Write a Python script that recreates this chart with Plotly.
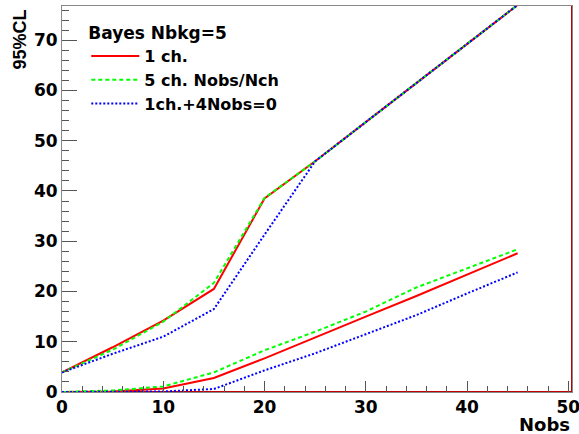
import plotly.graph_objects as go

# ---- data ----
nobs = [0, 5, 10, 15, 20, 25, 30, 35, 40, 45]

red_upper = [3.9, 8.9, 14.2, 20.5, 38.5, 45.9, 53.7, 61.5, 69.2, 77.0]
green_upper = [3.9, 8.4, 14.0, 21.7, 38.6, 45.9, 53.7, 61.5, 69.2, 77.0]
blue_upper = [3.9, 7.6, 11.0, 16.5, 31.3, 45.9, 53.7, 61.5, 69.2, 77.0]

red_lower = [0.0, 0.1, 0.7, 2.8, 6.7, 10.9, 15.0, 19.1, 23.4, 27.6]
green_lower = [0.0, 0.3, 1.1, 3.9, 8.3, 12.0, 16.0, 20.8, 24.6, 28.4]
blue_lower = [0.0, 0.0, 0.1, 0.6, 4.3, 7.7, 11.5, 15.3, 19.6, 23.8]

names = ["1 ch.", "5 ch. Nobs/Nch", "1ch.+4Nobs=0"]
legend_title = "Bayes Nbkg=5"
x_title = "Nobs"
y_title = "95%CL"

x_range = [0, 50.37]
y_range = [0, 76.8]
x_ticks = [0, 10, 20, 30, 40, 50]
y_ticks = [0, 10, 20, 30, 40, 50, 60, 70]

# red border line of the "1 ch." graph along bottom and right edge
edge_x = [0, 50.37, 50.37]
edge_y = [0, 0, 76.8]

RED, GREEN, BLUE = "#ff0000", "#00ff00", "#0000ff"
FONT = "DejaVu Sans"

fig = go.Figure()
fig.add_trace(go.Scatter(x=edge_x, y=edge_y, mode="lines", showlegend=False,
                         line=dict(color="#c00000", width=2), cliponaxis=False,
                         hoverinfo="skip"))

styles = [(RED, "solid", 2), (GREEN, "4px,3px", 2), (BLUE, "2px,2px", 2)]
uppers = [red_upper, green_upper, blue_upper]
lowers = [red_lower, green_lower, blue_lower]
for name, (col, dash, w), up in zip(names, styles, uppers):
    fig.add_trace(go.Scatter(x=nobs, y=up, mode="lines", name=name,
                             line=dict(color=col, dash=dash, width=w)))
for name, (col, dash, w), lo in zip(names, styles, lowers):
    fig.add_trace(go.Scatter(x=nobs, y=lo, mode="lines", name=name, showlegend=False,
                             line=dict(color=col, dash=dash, width=w)))

axis_common = dict(
    showgrid=False, zeroline=False, showline=True, linecolor="#888888",
    linewidth=1, mirror=True, ticks="inside", tickcolor="#555555", tickwidth=1,
    ticklabeloverflow="allow", automargin=False,
    tickfont=dict(family=FONT, size=17, color="black", weight="bold"),
)
fig.update_xaxes(range=x_range, tickvals=x_ticks, ticklen=11,
                 minor=dict(ticks="inside", ticklen=6, dtick=2, tickcolor="#555555"),
                 **axis_common)
fig.update_yaxes(range=y_range, tickvals=y_ticks, ticklen=15,
                 minor=dict(ticks="inside", ticklen=7, dtick=2, tickcolor="#555555"),
                 **axis_common)

fig.update_layout(
    width=579, height=434,
    margin=dict(l=62, r=7, t=6, b=42),
    plot_bgcolor="white", paper_bgcolor="white",
    legend=dict(
        x=0.0476, y=0.9715, xanchor="left", yanchor="top",
        bgcolor="rgba(0,0,0,0)", borderwidth=0, itemwidth=48,
        title=dict(text=legend_title, font=dict(family=FONT, size=17, color="black", weight="bold")),
        font=dict(family=FONT, size=16, color="black", weight="bold"),
    ),
    annotations=[
        dict(text=x_title, xref="paper", yref="paper", x=1.0, y=-0.083,
             xanchor="right", yanchor="middle", showarrow=False,
             font=dict(family=FONT, size=18, color="black", weight="bold")),
        dict(text=y_title, xref="paper", yref="paper", x=-0.0816, y=0.997,
             xanchor="center", yanchor="top", textangle=-90, showarrow=False,
             font=dict(family="Liberation Sans", size=18, color="black", weight="bold")),
    ],
)

fig.write_html("out.html")
